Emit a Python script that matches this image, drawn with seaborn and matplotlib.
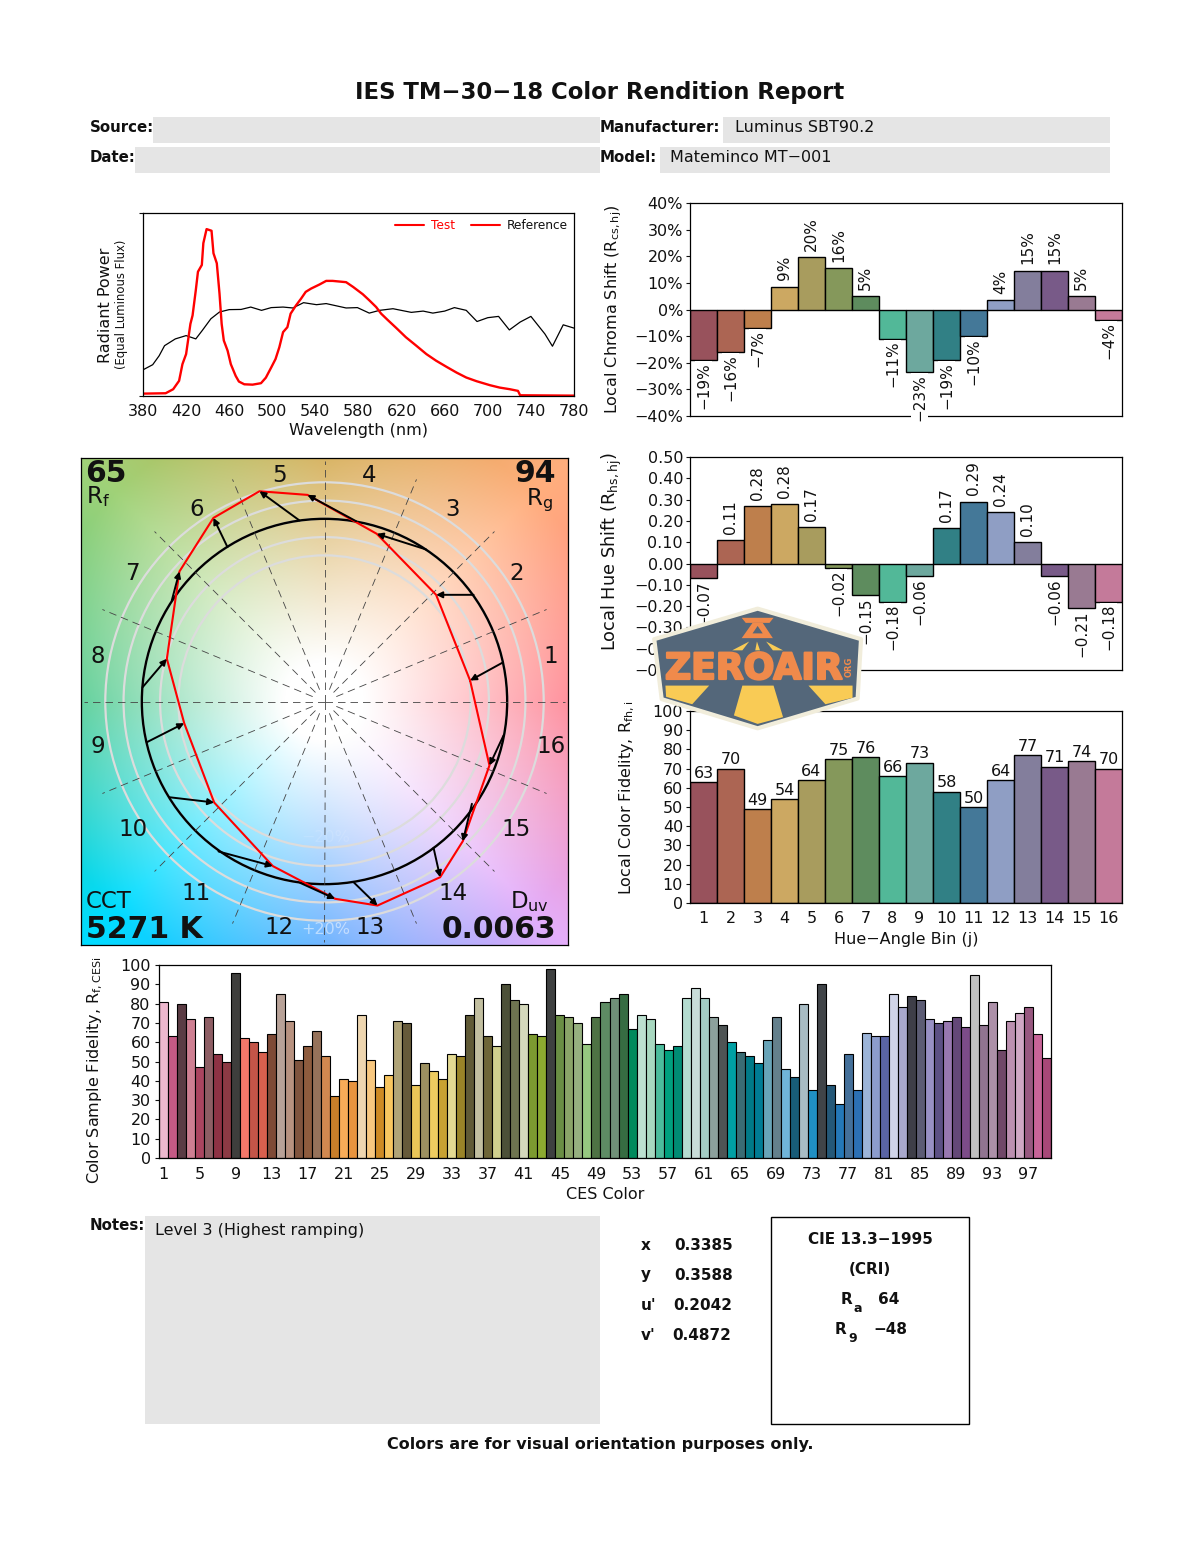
import numpy as np
import pandas as pd
import seaborn as sns
import matplotlib.pyplot as plt
import matplotlib.patheffects as pe
from matplotlib.lines import Line2D
from matplotlib.patches import Circle, Polygon, Rectangle

# spectrum
test_nm = [380, 401, 408, 413.5, 416.6, 420, 424, 426, 429, 431, 434.6, 436, 439, 443.6, 445.4, 448.5, 451, 453, 455,
           458.5, 461.5, 466, 469, 474, 481.7, 489.5, 494, 499, 503, 506.5, 510, 514, 517, 522, 526.7, 531, 536,
           543.7, 550, 556, 568.5, 575, 584, 590, 596.4, 601, 607, 615, 624, 633.6, 643, 652, 661.5, 671, 680,
           689.5, 702, 711, 720.5, 728, 730, 780]
test_power = [.013, .015, .037, .083, .174, .229, .394, .44, .578, .679, .716, .835, .912, .903, .78, .725, .56, .394,
              .303, .248, .174, .11, .079, .064, .062, .07, .10, .156, .202, .266, .349, .376, .45, .495, .532, .569,
              .587, .609, .629, .629, .622, .596, .556, .523, .486, .45, .416, .372, .321, .275, .229, .193, .16,
              .128, .101, .081, .059, .046, .037, .028, .004, .002]
ref_nm = [380, 389, 395, 400, 410, 420, 429, 435, 443, 451, 460, 471, 480, 490, 499, 510, 519, 529, 541, 550, 568.5,
          579, 590, 599.5, 612, 629, 640, 649, 660, 669, 680, 690, 700, 710, 720, 730, 740, 753, 760, 770, 780]
ref_power = [.143, .171, .22, .275, .312, .33, .312, .358, .422, .459, .472, .473, .486, .468, .483, .486, .481, .51,
             .499, .505, .481, .483, .453, .468, .477, .457, .464, .453, .464, .483, .468, .407, .428, .435, .361,
             .404, .435, .339, .272, .389, .371]

# hue bins
bins = list(range(1, 17))
bin_colors = ['#98525C', '#AC6553', '#BE7F4C', '#CCA862', '#A89C5E', '#85985B', '#5E8C5E', '#52B898',
              '#6DA89E', '#318085', '#447898', '#8F9EC4', '#837E9C', '#785A88', '#997A92', '#C47A9A']
chroma_shift = [-19, -16, -7, 8.6, 19.8, 15.6, 4.9, -11, -23.4, -19, -9.9, 3.6, 14.6, 14.6, 4.9, -3.8]
hue_shift = [-.07, .11, .27, .28, .17, -.02, -.15, -.18, -.06, .165, .29, .24, .10, -.06, -.21, -.18]
hue_labels = ['−0.07', '0.11', '0.28', '0.28', '0.17', '−0.02', '−0.15', '−0.18',
              '−0.06', '0.17', '0.29', '0.24', '0.10', '−0.06', '−0.21', '−0.18']
bin_fidelity = [63, 70, 49, 54, 64, 75, 76, 66, 73, 58, 50, 64, 77, 71, 74, 70]

# color vector graphic, reference circle has radius 1
test_x = [.797, .611, .286, -.093, -.356, -.608, -.794, -.863, -.768, -.604, -.283, .058, .290, .633, .757, .903]
test_y = [.115, .584, .918, 1.131, 1.151, 1.005, .712, .234, -.119, -.553, -.901, -1.080, -1.117, -.962, -.765, -.350]
ref_x = [.976, .816, .557, .173, -.137, -.531, -.836, -.996, -.973, -.850, -.580, -.133, .159, .597, .807, .980]
ref_y = [.2135, .584, .832, .987, .991, .845, .553, .078, -.223, -.524, -.821, -.993, -.989, -.801, -.560, -.186]
bg_angles = [0, 45, 90, 135, 180, 225, 270, 315, 360]
bg_colors = ['#FF7786', '#FFAF7D', '#CFA23E', '#A0D278', '#3EC686', '#00DCFF', '#4CA2FF', '#E4AEFA', '#FF7786']

# CES samples
ces_ids = list(range(1, 100))
ces_fidelity = [81, 63, 80, 72, 47, 73, 54, 50, 96, 62, 60, 55, 64, 85, 71, 51, 58, 66, 53, 32, 41, 40, 74, 51, 37,
                43, 71, 70, 38, 49, 45, 41, 54, 53, 74, 83, 63, 58, 90, 82, 80, 64, 63, 98, 74, 73, 70, 59, 73, 81,
                83, 85, 67, 74, 72, 59, 56, 58, 83, 88, 83, 73, 69, 60, 55, 53, 49, 61, 73, 46, 42, 80, 35, 90, 38,
                28, 54, 35, 65, 63, 63, 85, 78, 84, 82, 72, 70, 71, 73, 68, 95, 69, 81, 56, 71, 75, 78, 64, 52]
ces_colors = ['#EDB8CE', '#C45A85', '#5A3C44', '#CE7F92', '#AB4560', '#8E5E64', '#8E3244', '#8C3A44', '#3E3E3C',
              '#F4786A', '#C45548', '#D8604E', '#7E4A36', '#B8A298', '#B89280', '#80543E', '#8E5C3E', '#96725A',
              '#D08850', '#C87E2A', '#F8AC58', '#E8943E', '#EED6B0', '#F8C880', '#CE8A24', '#F8C660', '#B0A478',
              '#665A3A', '#EAC658', '#9C9060', '#EECC60', '#C8A232', '#E4DA92', '#9A8428', '#605A36', '#C2BFA0',
              '#6E6638', '#D0D08E', '#4C5038', '#6E7450', '#D4D8BC', '#7C9A30', '#8CAA30', '#3E4040', '#6A8E44',
              '#8AA468', '#96B080', '#96C880', '#4E7244', '#5E8C64', '#709078', '#366C42', '#008A5C', '#BCE0D0',
              '#A8D8C0', '#4CBC9C', '#00A07E', '#008C74', '#B4DCD0', '#C8DCD8', '#A4CCC4', '#8CA09C', '#4E5454',
              '#00A0A4', '#3A6C74', '#007A88', '#007C94', '#68A4B8', '#64808C', '#70B4D8', '#185C78', '#A8BCC4',
              '#2090C4', '#404448', '#245878', '#2478B8', '#44709A', '#2C70B4', '#9CB4D8', '#8C9CCC', '#5A64A4',
              '#D0D4E8', '#A8A8CC', '#3E3E48', '#5C5C74', '#9890C4', '#5C5084', '#9878B0', '#644878', '#7C4C88',
              '#C0C0C0', '#907490', '#AC90A8', '#704868', '#BC90B0', '#D0A8C4', '#985880', '#C86498', '#A84878']

W, H = 1200, 1550
sns.set_theme(style='white', rc={'axes.edgecolor': 'black', 'axes.linewidth': 0.9, 'xtick.bottom': False,
                                 'ytick.left': True, 'ytick.major.size': 3, 'ytick.major.width': 0.8,
                                 'xtick.color': '#111111', 'ytick.color': '#111111', 'axes.labelcolor': '#111111',
                                 'text.color': '#111111'})
plt.rcParams['font.family'] = ['DejaVu Sans']
TICK = 11.5


def axes_px(x0, y0, x1, y1, **kw):
    # axes from pixel box, y counted from the top
    return fig.add_axes([x0 / W, 1 - y1 / H, (x1 - x0) / W, (y1 - y0) / H], **kw)


def bin_bars(ax, values, colors, labels, ylim, yticks, rotate=True):
    df = pd.DataFrame({'bin': bins, 'value': values})
    sns.barplot(data=df, x='bin', y='value', hue='bin', palette=colors, legend=False, dodge=False, width=1,
                edgecolor='black', linewidth=1, saturation=1, ax=ax)
    ax.set_xlim(-0.5, 15.5)
    ax.set_ylim(*ylim)
    ax.set_yticks(yticks)
    ax.tick_params(axis='y', labelsize=TICK, pad=2)
    ax.set_xlabel('')
    for i, (v, t) in enumerate(zip(values, labels)):
        if rotate:
            ax.annotate(t, (i, v), xytext=(0, 4.5 if v >= 0 else -1.5), textcoords='offset points', rotation=90,
                        ha='center', va='bottom' if v >= 0 else 'top', fontsize=11, annotation_clip=False,
                        zorder=4, bbox=dict(fc='white', ec='none', pad=0.6))
        else:
            ax.annotate(t, (i, v), xytext=(0, 1), textcoords='offset points', ha='center', va='bottom',
                        fontsize=TICK, annotation_clip=False, zorder=4, bbox=dict(fc='white', ec='none', pad=0.4))


fig = plt.figure(figsize=(W / 100, H / 100), dpi=100)

# spectrum
ax = axes_px(143, 213, 574, 396)
sns.lineplot(x=ref_nm, y=ref_power, color='black', linewidth=0.9, ax=ax)
sns.lineplot(x=test_nm, y=test_power, color='red', linewidth=1.7, ax=ax)
ax.set_xlim(380, 780)
ax.set_ylim(0, 1)
ax.set_xticks(range(380, 781, 40))
ax.set_yticks([0, 1])
ax.set_yticklabels([])
ax.tick_params(axis='x', labelsize=TICK, pad=0)
ax.set_xlabel('Wavelength (nm)', fontsize=TICK, labelpad=3)
ax.legend(handles=[Line2D([], [], color='red', lw=1.5), Line2D([], [], color='red', lw=1.5)],
          labels=['Test', 'Reference'], labelcolor=['red', '#111111'], ncol=2, frameon=False, fontsize=8.7,
          loc='upper right', borderaxespad=0.1, columnspacing=1.3, handlelength=2.4, handletextpad=0.6)

# chroma, hue, fidelity bars
ax = axes_px(690, 203, 1122, 416)
bin_bars(ax, chroma_shift, bin_colors, [f'{v:.0f}%'.replace('-', '−') for v in chroma_shift], (-40, 40),
         range(-40, 41, 10))
ax.yaxis.set_major_formatter(lambda v, p: f'{v:.0f}%'.replace('-', '−'))
ax.set_xticks([])
ax.set_ylabel(r'Local Chroma Shift ($\mathregular{R_{cs,hj}}$)', fontsize=TICK)
ax.yaxis.set_label_coords(-0.152, 0.5)

ax = axes_px(690, 457, 1122, 670)
bin_bars(ax, hue_shift, bin_colors, hue_labels, (-.5, .5), [round(v / 10, 1) for v in range(-5, 6)])
ax.yaxis.set_major_formatter(lambda v, p: f'{v:.2f}'.replace('-', '−'))
ax.set_xticks([])
ax.set_ylabel(r'Local Hue Shift ($\mathregular{R_{hs,hj}}$)', fontsize=12.8)
ax.yaxis.set_label_coords(-0.152, 0.558)

ax = axes_px(690, 711, 1122, 903)
bin_bars(ax, bin_fidelity, bin_colors, [str(v) for v in bin_fidelity], (0, 100), range(0, 101, 10), rotate=False)
ax.tick_params(axis='x', labelsize=TICK, pad=0)
ax.set_xlabel('Hue−Angle Bin (j)', fontsize=TICK, labelpad=4)
ax.set_ylabel(r'Local Color Fidelity, $\mathregular{R_{fh,i}}$', fontsize=TICK)
ax.yaxis.set_label_coords(-0.123, 0.547)

# CES bars
ax = axes_px(159, 965, 1051, 1158)
ces = pd.DataFrame({'id': ces_ids, 'value': ces_fidelity})
sns.barplot(data=ces, x='id', y='value', hue='id', palette=ces_colors, legend=False, dodge=False, width=1,
            edgecolor='black', linewidth=0.8, saturation=1, ax=ax)
ax.set_xlim(-0.5, 98.5)
ax.set_ylim(0, 100)
ax.set_xticks(range(0, 99, 4))
ax.set_xticklabels(ces_ids[::4])
ax.set_yticks(range(0, 101, 10))
ax.tick_params(labelsize=TICK, pad=3)
ax.tick_params(axis='x', pad=0.7)
ax.set_xlabel('CES Color', fontsize=TICK, labelpad=3.5)
ax.set_ylabel(r'Color Sample Fidelity, $\mathregular{R_{f,CESi}}$', fontsize=TICK)
ax.yaxis.set_label_coords(-0.061, 0.453)

# color vector graphic
ax = axes_px(81, 458, 568, 945)
lim = 1.333
gx, gy = np.meshgrid(np.linspace(-lim, lim, 400), np.linspace(-lim, lim, 400))
theta = np.degrees(np.arctan2(gy, gx)) % 360
anchors = np.array([plt.matplotlib.colors.to_rgb(c) for c in bg_colors])
rgb = np.dstack([np.interp(theta, bg_angles, anchors[:, k]) for k in range(3)])
blend = np.clip((np.hypot(gx, gy) - 0.22) / 1.4, 0, 1)[..., None]
ax.imshow(1 - blend * (1 - rgb), extent=(-lim, lim, -lim, lim), origin='lower', interpolation='bilinear')
ax.set_xlim(-lim, lim)
ax.set_ylim(-lim, lim)
ax.set_xticks([])
ax.set_yticks([])
for r in [.8, .9, 1, 1.1, 1.2]:
    ax.add_patch(Circle((0, 0), r, fc='none', ec='#DCDCDC', lw=1.6))
for k in range(16):
    a = np.radians(k * 22.5)
    r0 = 0 if k % 4 == 0 else 0.07
    ax.plot([r0 * np.cos(a), 1.316 * np.cos(a)], [r0 * np.sin(a), 1.316 * np.sin(a)],
            color='#444444', lw=0.6, ls=(0, (9, 6)))
ax.add_patch(Circle((0, 0), 1, fc='none', ec='black', lw=1.7))
ax.plot(test_x + test_x[:1], test_y + test_y[:1], color='red', lw=1.5)
for x0, y0, x1, y1 in zip(ref_x, ref_y, test_x, test_y):
    ax.annotate('', (x1, y1), (x0, y0), arrowprops=dict(arrowstyle='-|>', color='black', lw=1.4, mutation_scale=9,
                                                         shrinkA=0, shrinkB=0))
for j in bins:
    a = np.radians((j - .5) * 22.5)
    ax.text(1.263 * np.cos(a), 1.263 * np.sin(a), str(j), ha='center', va='center', fontsize=16.5)

# page furniture, pixel coordinates
page = fig.add_axes([0, 0, 1, 1], zorder=5, facecolor='none')
page.set_xlim(0, W)
page.set_ylim(H, 0)
page.axis('off')
for x0, y0, x1, y1 in [(153, 117, 600, 143), (135, 147, 600, 173), (723, 117, 1110, 143), (660, 147, 1110, 173),
                       (145, 1216, 600, 1424)]:
    page.add_patch(Rectangle((x0, y0), x1 - x0, y1 - y0, fc='#E5E5E5', ec='none', zorder=0))
page.add_patch(Rectangle((771, 1217), 198, 207, fc='white', ec='black', lw=1))


def txt(x, y, s, size=11, weight='normal', ha='left', **kw):
    page.text(x, y, s, fontsize=size, fontweight=weight, ha=ha, va='center', **kw)


txt(600, 93, 'IES TM−30−18 Color Rendition Report', 16.4, 'bold', 'center')
for x, y, s in [(90, 127, 'Source:'), (90, 157, 'Date:'), (600, 127, 'Manufacturer:'), (600, 157, 'Model:'),
                (90, 1226, 'Notes:')]:
    txt(x, y, s, 10.8, 'bold')
txt(735, 127, 'Luminus SBT90.2', 11.5)
txt(670, 157, 'Mateminco MT−001', 11.5)
txt(155, 1230, 'Level 3 (Highest ramping)', 11.5)
txt(600, 1444, 'Colors are for visual orientation purposes only.', 11.5, 'bold', 'center')
for y, k, x, v in [(1245, 'x', 674, '0.3385'), (1275, 'y', 674, '0.3588'), (1305, "u'", 673, '0.2042'),
                   (1335, "v'", 672, '0.4872')]:
    txt(641, y, k, 11, 'bold')
    txt(x, y, v, 11, 'bold')
txt(870, 1240, 'CIE 13.3−1995', 11, 'bold', 'center')
txt(870, 1270, '(CRI)', 11, 'bold', 'center')
txt(841, 1300, 'R', 11, 'bold')
txt(854, 1309, 'a', 9, 'bold')
txt(878, 1300, '64', 11, 'bold')
txt(835, 1330, 'R', 11, 'bold')
txt(848, 1339, '9', 9, 'bold')
txt(873, 1330, '−48', 11, 'bold')
txt(105, 305, 'Radiant Power', 11.5, ha='center', rotation=90, rotation_mode='anchor')
txt(122, 304, '(Equal Luminous Flux)', 8.4, ha='center', rotation=90, rotation_mode='anchor')

txt(85, 474, '65', 21.5, 'bold')
txt(86, 497, r'$\mathregular{R_f}$', 16.5)
txt(556, 474, '94', 21.5, 'bold', 'right')
txt(553, 500, r'$\mathregular{R_g}$', 16.5, ha='right')
txt(86, 901, 'CCT', 16.5)
txt(86, 930, '5271 K', 21.5, 'bold')
txt(549, 902, r'$\mathregular{D_{uv}}$', 16.5, ha='right')
txt(556, 930, '0.0063', 21.5, 'bold', 'right')
txt(326, 930, '+20%', 11.5, ha='center', color='white', alpha=0.5)
txt(326, 837, '−20%', 11.5, ha='center', color='white', alpha=0.12)

# watermark badge
mark = fig.add_axes([0, 0, 1, 1], zorder=8, facecolor='none')
mark.set_xlim(0, W)
mark.set_ylim(H, 0)
mark.axis('off')


def zpts(pts):
    return [(600 + a / 2.95, 590 + b / 2.95) for a, b in pts]


mark.add_patch(Polygon(zpts([(465, 55), (770, 145), (760, 320), (465, 408), (182, 322), (160, 145)]), fc='#54677A',
                       ec='#F1EDDB', lw=3, joinstyle='round'))
for pts, col in [([(418, 82), (512, 82), (500, 97), (430, 97)], '#F08A4B'),
                 ([(450, 97), (480, 97), (510, 142), (418, 142)], '#F08A4B'),
                 ([(465, 106), (480, 128), (450, 128)], '#54677A'),
                 ([(390, 178), (440, 152), (420, 178)], '#F9CB55'),
                 ([(458, 178), (463, 152), (472, 178)], '#F9CB55'),
                 ([(510, 178), (490, 152), (540, 178)], '#F9CB55'),
                 ([(193, 282), (322, 282), (272, 337), (195, 315)], '#F9CB55'),
                 ([(615, 282), (745, 282), (745, 318), (665, 337)], '#F9CB55'),
                 ([(420, 282), (512, 282), (540, 375), (465, 395), (395, 370)], '#F9CB55')]:
    mark.add_patch(Polygon(zpts(pts), fc=col, ec='none'))
mark.text(754, 669, 'ZEROAIR', fontsize=26, fontweight='bold', color='#F08A4B', ha='center', va='center',
          path_effects=[pe.withStroke(linewidth=1.6, foreground='#F08A4B')])
mark.text(849, 667, 'ORG', fontsize=6, fontweight='bold', color='#F08A4B', rotation=90, ha='center', va='center')

fig.savefig('out.png', dpi=100)
